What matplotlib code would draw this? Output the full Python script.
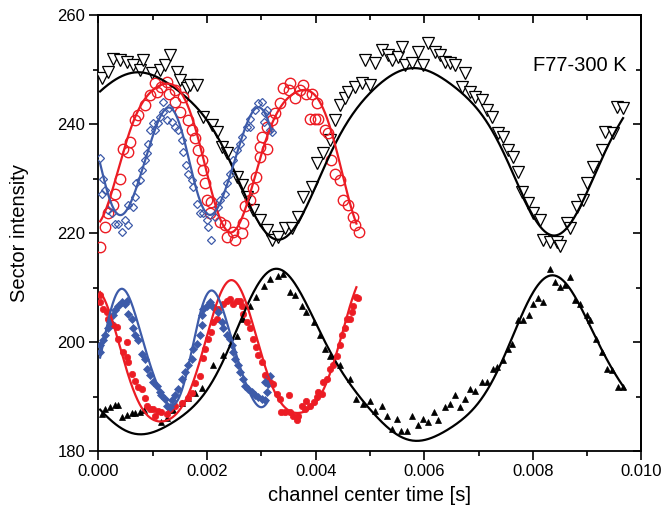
import numpy as np
import matplotlib
matplotlib.use("Agg")
import matplotlib.pyplot as plt
from matplotlib.ticker import MultipleLocator, FormatStrFormatter

plt.rcParams['font.family'] = ['Liberation Sans', 'DejaVu Sans']

# ---------------- data (time in ms, intensity) ----------------
# upper group
top_tri_t = [0.06,0.17,0.27,0.40,0.52,0.64,0.76,0.82,0.99,1.13,
             1.22,1.32,1.45,1.50,1.63,1.69,1.81,1.92,2.09,2.18,
             2.27,2.37,2.55,2.64,2.73,2.85,2.97,3.10,3.19,3.30,
             3.43,3.56,3.67,3.77,3.93,4.02,4.13,4.26,4.36,4.45,
             4.54,4.60,4.72,4.85,5.00,4.91,5.09,5.22,5.33,5.41,
             5.52,5.59,5.64,5.77,5.88,5.98,6.07,6.20,6.29,6.38,
             6.47,6.57,6.75,6.69,6.84,6.93,7.06,7.15,7.25,7.36,
             7.45,7.54,7.63,7.73,7.80,7.91,8.00,8.13,8.19,8.31,
             8.44,8.50,8.63,8.68,8.81,8.92,9.00,9.11,9.27,9.33,
             9.48,9.55,9.66]
top_tri_v = [248.4,249.6,252.0,251.8,251.4,250.9,249.9,251.8,249.4,249.9,
             250.9,252.7,249.6,248.1,246.6,247.2,247.2,241.3,239.8,238.5,
             235.8,234.7,230.2,228.8,226.6,224.2,222.3,220.5,218.7,219.2,
             221.0,221.0,222.9,226.6,228.4,232.8,234.7,237.1,240.7,243.5,
             244.8,245.9,246.8,247.5,247.2,251.8,251.2,253.6,252.7,251.8,
             252.3,254.2,250.9,251.2,253.2,250.9,254.9,253.2,252.7,251.4,
             251.2,250.9,249.4,246.8,245.9,245.0,244.4,242.6,241.3,238.3,
             237.6,235.2,233.9,231.2,227.5,225.5,223.6,222.3,218.7,218.3,
             218.3,217.7,221.8,220.9,224.7,226.0,229.1,232.1,235.2,238.5,
             238.3,243.1,242.9]

top_circ_t = [0.03,0.12,0.18,0.27,0.30,0.40,0.46,0.55,0.58,0.67,
              0.73,0.86,0.95,1.04,1.07,1.16,1.26,1.29,1.41,1.41,
              1.50,1.56,1.65,1.72,1.78,1.84,1.90,1.93,1.96,1.99,
              2.05,2.08,2.24,2.33,2.36,2.48,2.51,2.64,2.67,2.70,
              2.79,2.85,2.91,2.97,2.97,3.01,3.10,3.10,3.19,3.25,
              3.34,3.40,3.50,3.53,3.62,3.71,3.77,3.83,3.90,3.93,
              3.99,4.02,4.05,4.17,4.23,4.29,4.36,4.45,4.51,4.60,
              4.69,4.72,4.79]
top_circ_v = [217.4,221.1,223.6,225.1,227.2,230.0,235.5,234.9,236.7,240.7,
              241.7,243.5,245.3,247.5,245.9,246.8,247.8,245.6,246.2,244.1,
              242.3,245.0,240.7,238.9,237.4,235.2,233.4,231.5,229.1,226.0,
              223.6,225.7,222.1,221.5,219.3,220.2,218.7,220.0,221.8,224.9,
              226.0,228.2,230.3,234.0,235.8,237.7,235.5,239.5,240.7,242.0,
              243.8,246.6,246.3,247.5,244.7,246.3,247.2,245.6,241.0,245.6,
              241.0,243.8,241.0,238.9,238.3,233.4,230.9,229.7,226.0,225.1,
              223.0,221.5,220.2]

top_dia_t = [0.03,0.09,0.12,0.06,0.18,0.24,0.30,0.36,0.43,0.49,
             0.55,0.55,0.64,0.67,0.70,0.76,0.80,0.86,0.89,0.92,
             0.95,1.01,1.04,1.10,1.13,1.19,1.19,1.26,1.29,1.35,
             1.41,1.47,1.53,1.56,1.62,1.65,1.72,1.75,1.81,1.87,
             1.93,1.99,2.02,2.08,2.15,2.21,2.24,2.33,2.36,2.42,
             2.48,2.55,2.61,2.64,2.73,2.79,2.79,2.88,2.94,3.01,
             3.07,3.04,3.10,3.16,3.19]
top_dia_v = [233.7,230.0,227.9,227.2,224.2,223.6,221.7,221.7,220.2,222.3,
             221.4,225.1,224.8,226.6,229.1,229.7,231.5,233.4,234.6,236.4,
             238.9,240.1,238.9,240.1,241.3,242.3,244.1,240.7,242.9,240.4,
             239.5,238.9,237.1,234.9,232.5,230.9,229.7,228.5,225.4,223.6,
             223.6,222.3,221.1,218.7,223.0,224.8,226.0,227.2,229.1,230.9,
             233.4,235.2,236.4,237.7,239.5,239.5,241.0,242.6,243.8,244.1,
             242.0,240.4,242.6,238.9,238.6]

# lower group
bot_dot_t = [0.03,0.03,0.09,0.15,0.18,0.27,0.34,0.36,0.46,0.52,
             0.52,0.55,0.61,0.67,0.73,0.80,0.86,0.89,0.95,1.01,
             1.04,1.10,1.16,1.26,1.32,1.41,1.53,1.65,1.72,1.78,
             1.87,1.93,1.96,2.02,2.08,2.11,2.18,2.21,2.30,2.36,
             2.42,2.48,2.55,2.61,2.64,2.67,2.73,2.79,2.85,2.91,
             2.94,3.01,3.07,3.13,3.16,3.22,3.28,3.34,3.37,3.43,
             3.50,3.53,3.59,3.65,3.68,3.74,3.80,3.83,3.90,3.96,
             4.02,4.05,4.11,4.14,4.20,4.26,4.32,4.39,4.45,4.48,
             4.54,4.57,4.63,4.66,4.69,4.75,4.78]
bot_dot_v = [208.6,207.4,206.1,205.5,204.3,203.1,202.8,200.6,198.2,197.2,
             200.0,196.3,194.2,192.9,191.7,191.4,189.8,188.3,187.7,187.7,
             186.5,187.4,187.1,186.8,187.7,188.3,188.9,189.8,190.7,192.5,
             193.7,197.0,198.8,200.6,201.9,203.7,204.3,206.1,207.0,207.6,
             207.9,207.0,207.6,207.6,206.7,205.2,203.7,202.5,200.6,199.1,
             197.6,196.3,193.9,193.2,192.6,192.3,190.5,189.6,187.1,187.1,
             190.2,187.1,186.5,185.6,186.5,188.3,187.7,189.2,188.3,189.0,
             189.9,190.8,190.5,192.6,193.2,195.1,195.7,197.5,199.4,201.2,
             202.5,204.3,204.3,205.5,206.7,208.3,208.0]

bot_dia_t = [0.03,0.03,0.09,0.12,0.18,0.21,0.27,0.30,0.36,0.43,
             0.49,0.52,0.55,0.61,0.64,0.67,0.73,0.80,0.86,0.89,
             0.95,1.01,1.07,1.13,1.16,1.22,1.26,1.32,1.35,1.41,
             1.47,1.53,1.59,1.65,1.72,1.75,1.81,1.87,1.90,1.90,
             1.93,1.99,2.05,2.11,2.21,2.27,2.30,2.36,2.42,2.45,
             2.48,2.51,2.57,2.61,2.67,2.70,2.76,2.82,2.88,2.94,
             3.01,3.07,3.10,3.13,3.16,3.07]
bot_dia_v = [198.2,199.4,200.3,201.2,202.5,203.7,204.9,205.8,206.7,207.4,
             207.0,207.6,205.2,204.3,202.5,201.2,200.3,197.8,196.9,195.1,
             193.9,192.6,192.0,190.8,190.2,189.6,188.3,188.0,189.3,190.2,
             191.4,193.2,194.5,195.7,196.9,198.8,199.7,201.2,203.1,204.9,
             206.1,206.7,207.4,206.4,205.5,203.7,202.5,201.2,200.6,199.4,
             198.2,196.9,195.7,194.5,193.2,192.0,191.4,190.8,190.2,189.9,
             189.6,189.3,190.8,192.3,193.7,192.6]

bot_tri_t = [0.06,0.12,0.21,0.30,0.36,0.43,0.52,0.61,0.67,0.76,
             0.83,1.16,1.26,1.38,1.53,1.65,1.78,1.90,2.11,2.30,
             2.55,2.67,2.79,2.91,3.04,3.16,3.31,3.40,3.53,3.62,
             3.74,3.83,3.96,4.08,4.17,4.26,4.45,4.63,4.75,4.88,
             5.00,5.09,5.22,5.31,5.40,5.49,5.58,5.68,5.77,5.89,
             5.98,6.07,6.17,6.26,6.38,6.47,6.57,6.66,6.75,6.84,
             6.93,7.06,7.15,7.27,7.33,7.45,7.55,7.61,7.73,7.82,
             7.92,8.01,8.10,8.19,8.31,8.41,8.50,8.59,8.68,8.78,
             8.87,8.99,9.05,9.17,9.27,9.36,9.45,9.57,9.66]
bot_tri_v = [186.8,187.8,188.1,188.4,188.4,186.2,186.6,186.9,187.0,187.2,
             187.5,185.4,186.1,187.5,188.8,189.7,190.6,191.5,195.8,197.7,
             201.1,204.2,206.6,208.2,210.3,211.6,212.2,212.5,209.2,208.6,
             206.7,205.5,203.7,201.2,198.8,197.5,195.7,193.2,189.6,188.6,
             189.2,187.4,188.3,186.5,184.0,185.9,183.6,183.6,186.5,184.7,
             185.9,185.3,187.1,185.6,188.0,188.6,190.2,188.0,189.6,191.4,
             191.1,192.6,192.6,195.1,195.4,196.7,198.8,199.7,204.0,204.0,
             204.9,207.0,208.0,207.4,213.4,211.0,210.1,210.4,212.0,207.7,
             207.0,204.9,204.0,200.6,198.2,195.1,194.8,191.7,191.7]

# fit curves: points
fit_top_black_t = [0.03,0.21,0.46,0.76,1.07,1.38,1.69,1.99,2.30,2.61,2.91,3.16,3.25,3.53,
                   3.83,4.14,4.35,4.57,4.88,5.18,5.49,5.86,6.23,6.60,6.96,7.33,7.64,7.95,
                   8.19,8.38,8.56,8.87,9.17,9.48,9.66]
fit_top_black_v = [244.7,246.9,248.5,248.8,248.2,246.6,244.1,240.1,235.2,229.7,224.2,219.3,218.7,220.5,
                   225.4,231.0,236.5,241.5,245.8,248.5,250.1,250.6,249.6,247.2,243.2,237.1,230.9,224.2,
                   219.3,217.8,220.5,226.0,231.5,236.4,239.8]
fit_top_red_t = [0.03,0.30,0.55,0.80,1.10,1.22,1.40,1.65,1.85,1.95,2.05,2.24,2.42,2.61,2.79,2.97,
                 3.22,3.47,3.71,3.96,4.20,4.39,4.57,4.75]
fit_top_red_v = [221.7,229.7,237.7,243.2,247.2,248.1,247.3,243.5,237.0,233.5,228.0,222.3,220.2,221.7,
                 227.2,234.0,240.7,244.4,245.9,245.0,240.7,234.6,228.5,222.3]
fit_top_blue_t = [0.03,0.15,0.25,0.40,0.55,0.73,0.92,1.07,1.22,1.38,1.53,1.72,1.90,2.02,2.20,2.42,
                  2.67,2.85,2.97,3.08,3.19]
fit_top_blue_v = [234.0,229.0,225.0,222.9,225.0,229.7,235.8,240.0,242.0,241.0,237.1,230.3,224.8,223.2,
                  225.0,229.7,237.7,242.8,244.3,243.0,238.9]
fit_bot_red_t = [0.03,0.30,0.49,0.67,0.92,1.16,1.41,1.65,1.88,2.05,2.24,2.42,2.67,2.91,3.10,3.28,
                 3.47,3.65,3.90,4.14,4.39,4.57,4.75]
fit_bot_red_v = [209.2,202.5,195.8,190.9,186.6,184.8,186.0,189.7,197.0,203.5,209.7,210.9,208.1,201.4,
                 194.1,189.8,187.7,187.3,188.5,192.2,197.7,203.8,209.9]
fit_bot_blue_t = [0.03,0.18,0.43,0.61,0.80,0.98,1.16,1.35,1.55,1.78,1.90,2.08,2.24,2.42,2.61,2.79,
                  2.97,3.12]
fit_bot_blue_v = [197.2,204.3,209.5,207.4,201.2,195.1,190.2,187.7,191.5,201.2,206.1,209.5,207.4,201.2,
                  195.1,190.9,188.6,189.3]
fit_bot_black_t = [0.03,0.34,0.86,1.32,1.69,1.99,2.30,2.61,2.91,3.25,3.53,3.83,4.14,4.45,4.75,5.06,
                   5.37,5.83,6.35,6.84,7.27,7.58,7.89,8.13,8.31,8.56,8.87,9.17,9.48,9.70]
fit_bot_black_v = [186.8,185.2,183.6,185.0,187.5,191.7,197.2,203.4,209.5,213.2,212.0,206.5,201.0,195.5,
                   190.6,186.9,183.9,181.9,182.8,186.8,193.5,199.1,206.5,212.0,213.1,211.4,205.8,200.2,
                   195.3,191.3]

label_text = "F77-300 K"
xlabel_text = "channel center time [s]"
ylabel_text = "Sector intensity"

RED = '#ec1c24'
BLUE = '#3d5ba9'
BLACK = '#000000'


def smooth_fit(t, v, period_guess, nh):
    t = np.asarray(t) * 1e-3
    v = np.asarray(v, dtype=float)
    best = None
    for P in np.linspace(0.75 * period_guess, 1.25 * period_guess, 301) * 1e-3:
        cols = [np.ones_like(t), t]
        for k in range(1, nh + 1):
            cols += [np.cos(2 * np.pi * k * t / P), np.sin(2 * np.pi * k * t / P)]
        A = np.vstack(cols).T
        coef, *_ = np.linalg.lstsq(A, v, rcond=None)
        r = np.sum((A @ coef - v) ** 2)
        if best is None or r < best[0]:
            best = (r, P, coef)
    _, P, coef = best
    tt = np.linspace(t.min(), t.max(), 500)
    cols = [np.ones_like(tt), tt]
    for k in range(1, nh + 1):
        cols += [np.cos(2 * np.pi * k * tt / P), np.sin(2 * np.pi * k * tt / P)]
    return tt, np.vstack(cols).T @ coef


fig = plt.figure(figsize=(6.64, 5.19), dpi=100)
ax = fig.add_axes([0.1483, 0.131, 0.8178, 0.840])

ms = lambda a: np.asarray(a) * 1e-3

# upper group markers
ax.plot(ms(top_tri_t), top_tri_v, linestyle='none', marker='v', ms=8,
        mfc='white', mec=BLACK, mew=0.9, zorder=3)
ax.plot(ms(top_circ_t), top_circ_v, linestyle='none', marker='o', ms=7.5,
        mfc='none', mec=RED, mew=1.0, zorder=3)
ax.plot(ms(top_dia_t), top_dia_v, linestyle='none', marker='D', ms=3.8,
        mfc='none', mec=BLUE, mew=0.9, zorder=3)
# lower group markers
ax.plot(ms(bot_tri_t), bot_tri_v, linestyle='none', marker='^', ms=5,
        mfc=BLACK, mec=BLACK, mew=0.5, zorder=3)
ax.plot(ms(bot_dot_t), bot_dot_v, linestyle='none', marker='o', ms=4.6,
        mfc=RED, mec=RED, mew=0.5, zorder=3)
ax.plot(ms(bot_dia_t), bot_dia_v, linestyle='none', marker='D', ms=4.2,
        mfc=BLUE, mec=BLUE, mew=0.5, zorder=3)

# fit lines
fits = [
    (fit_top_black_t, fit_top_black_v, 5.2, 3, BLACK),
    (fit_top_red_t, fit_top_red_v, 2.5, 2, RED),
    (fit_top_blue_t, fit_top_blue_v, 1.7, 2, BLUE),
    (fit_bot_black_t, fit_bot_black_v, 5.0, 3, BLACK),
    (fit_bot_red_t, fit_bot_red_v, 2.5, 2, RED),
    (fit_bot_blue_t, fit_bot_blue_v, 1.65, 2, BLUE),
]
for t, v, P, nh, c in fits:
    tt, vv = smooth_fit(t, v, P, nh)
    ax.plot(tt, vv, color=c, lw=1.6, zorder=4)

ax.set_xlim(0, 0.010)
ax.set_ylim(180, 260)
ax.xaxis.set_major_locator(MultipleLocator(0.002))
ax.xaxis.set_minor_locator(MultipleLocator(0.001))
ax.yaxis.set_major_locator(MultipleLocator(20))
ax.yaxis.set_minor_locator(MultipleLocator(10))
ax.xaxis.set_major_formatter(FormatStrFormatter('%.3f'))

for s in ax.spines.values():
    s.set_linewidth(1.3)

ax.tick_params(axis='both', which='major', direction='out', length=6.5, width=1.2,
               labelsize=12, pad=3, top=False, right=False)
ax.tick_params(axis='both', which='minor', direction='out', length=3.5, width=1.2,
               top=False, right=False)

# mirrored inward ticks on top and right
axt = ax.secondary_xaxis('top')
axt.xaxis.set_major_locator(MultipleLocator(0.002))
axt.xaxis.set_minor_locator(MultipleLocator(0.001))
axt.tick_params(which='major', direction='in', length=6, width=1.2, labeltop=False)
axt.tick_params(which='minor', direction='in', length=3.5, width=1.2)
axt.spines['top'].set_linewidth(1.3)
axr = ax.secondary_yaxis('right')
axr.yaxis.set_major_locator(MultipleLocator(20))
axr.yaxis.set_minor_locator(MultipleLocator(10))
axr.tick_params(which='major', direction='in', length=6, width=1.2, labelright=False)
axr.tick_params(which='minor', direction='in', length=3.5, width=1.2)
axr.spines['right'].set_linewidth(1.3)

ax.set_xlabel(xlabel_text, fontsize=14.5, labelpad=5)
ax.set_ylabel(ylabel_text, fontsize=14.5, labelpad=20)

ax.text(0.80, 0.885, label_text, transform=ax.transAxes, fontsize=14.5,
        ha='left', va='center')

fig.savefig('out.png', dpi=100)
